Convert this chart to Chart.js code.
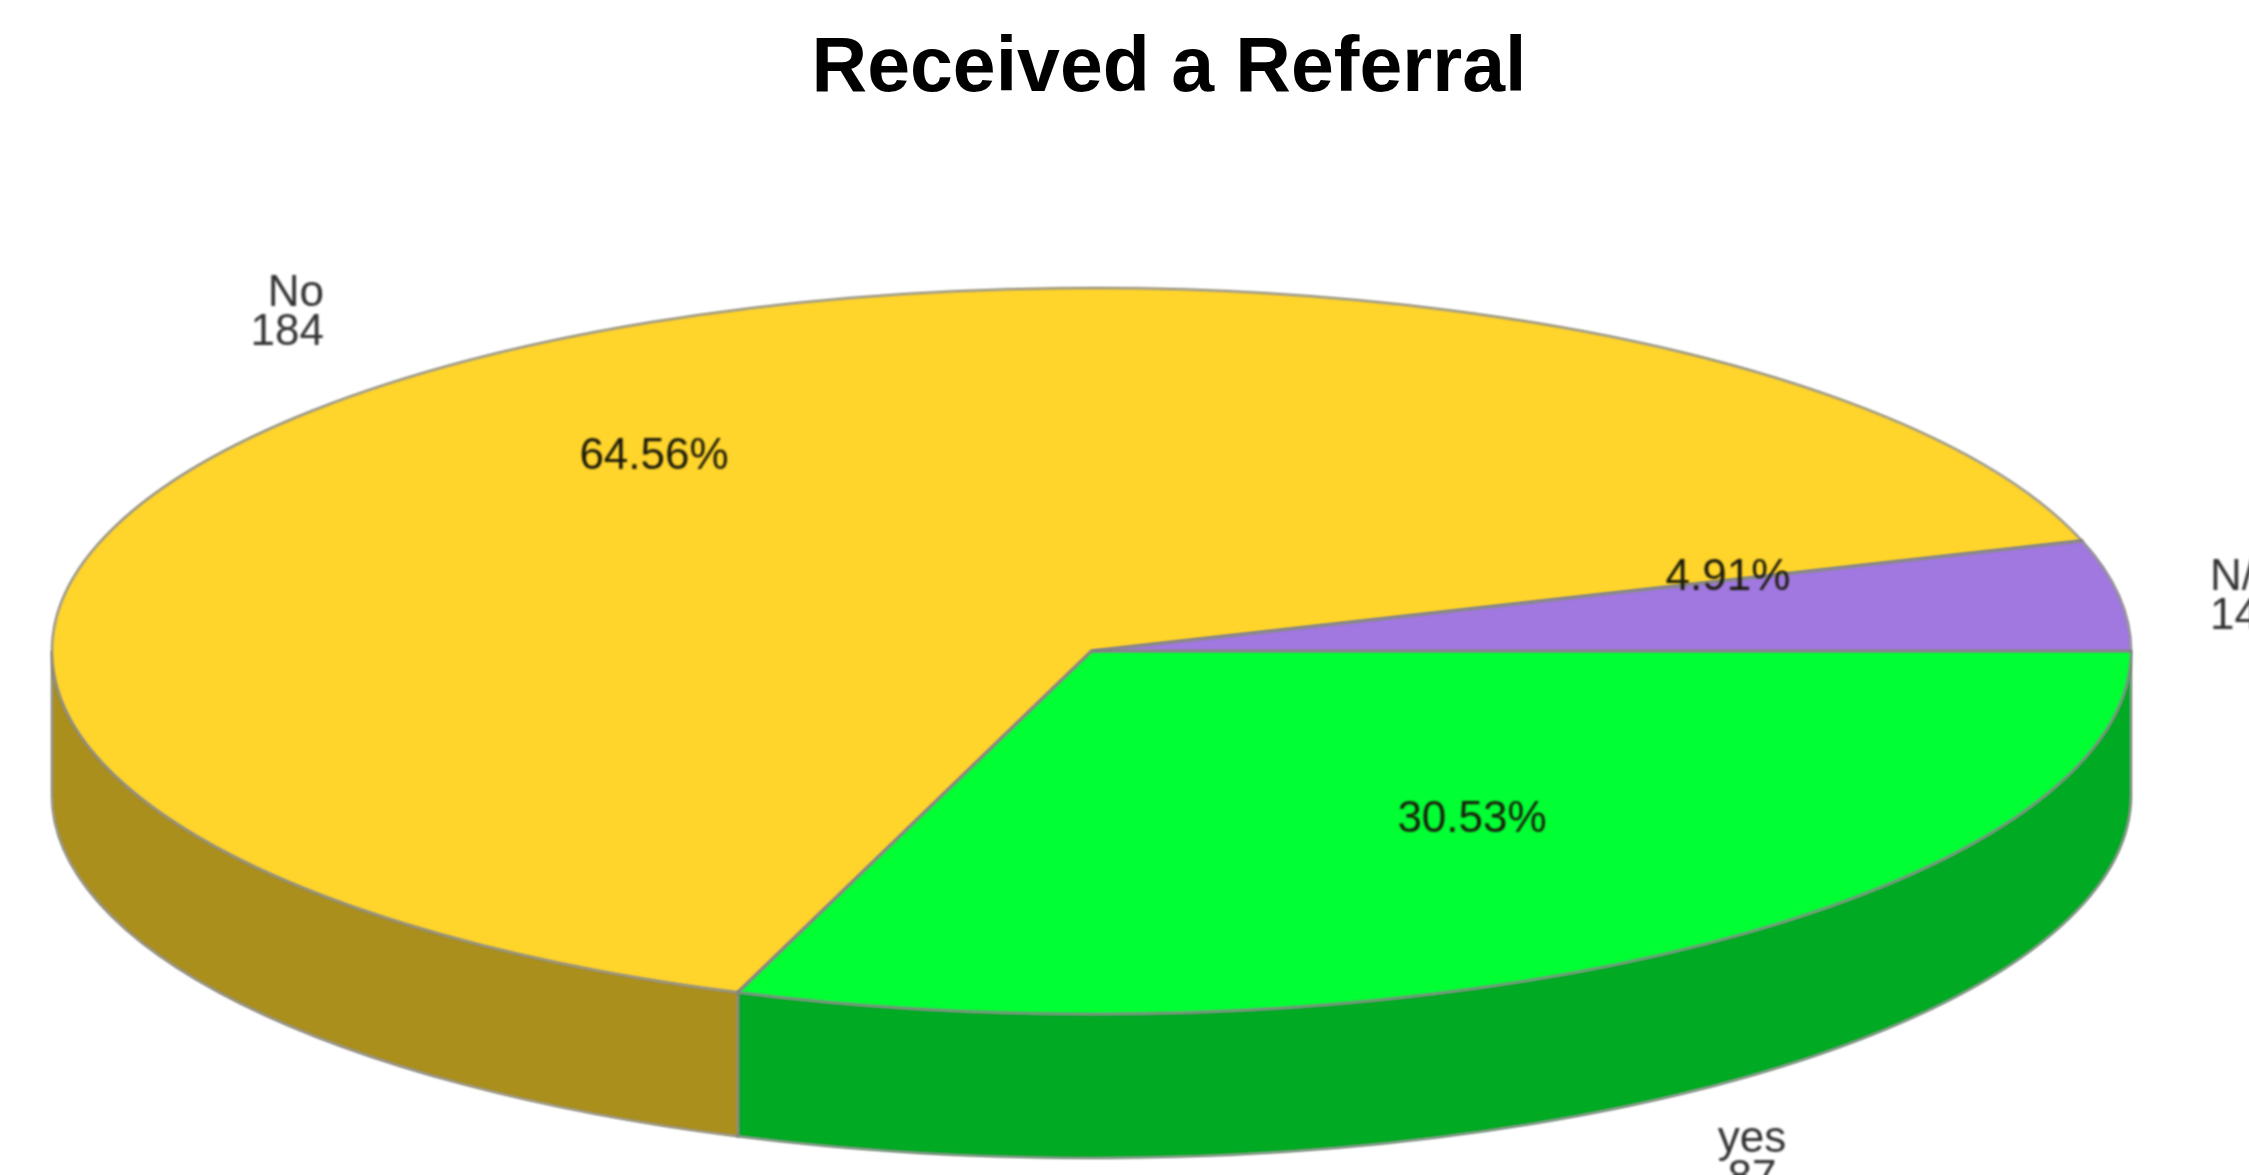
<!DOCTYPE html>
<html>
<head>
<meta charset="utf-8">
<title>Received a Referral</title>
<script src="https://cdn.jsdelivr.net/npm/chart.js@4"></script>
<style>
  html, body { margin: 0; padding: 0; background: #fff; overflow: hidden; }
  canvas { display: block; }
</style>
</head>
<body>
<canvas id="chart" width="2249" height="1175"></canvas>
<script>
const categories = ['yes', 'No', 'N/A'];
const counts = [87, 184, 14];
const topColors = ['#00ff33', '#ffd42b', '#a078e0'];
const wallColors = ['#00aa22', '#ab8f1d', '#6b5096'];

// Where the flattened pie sits on the page
const pie = { x: 1091.5, y: 651, rx: 1039.5, ry: 363, depth: 144 };
const edgeColor = '#808080';
const labelFont = '44px "Liberation Sans"';
const softEdge = 'blur(1px)';

// Label anchors, same order as categories
const nameAnchors = [
  { x: 1752, y: 1140, align: 'center' },
  { x: 324, y: 294, align: 'right' },
  { x: 2210, y: 578, align: 'left' }
];
const percentAnchors = [
  { x: 1472, y: 820 },
  { x: 654, y: 457 },
  { x: 1728, y: 578 }
];

function sectorPath(ctx, arc) {
  ctx.beginPath();
  ctx.moveTo(pie.x, pie.y);
  ctx.ellipse(pie.x, pie.y, pie.rx, pie.ry, 0, arc.startAngle, arc.endAngle);
  ctx.closePath();
}

const flatPie = {
  id: 'flatPie',
  beforeDatasetsDraw(chart) {
    const ctx = chart.ctx;
    const arcs = chart.getDatasetMeta(0).data;
    ctx.save();
    ctx.filter = softEdge;

    // Side wall, only the part of each slice that faces the viewer
    arcs.forEach((arc, i) => {
      const from = Math.max(arc.startAngle, 0);
      const to = Math.min(arc.endAngle, Math.PI);
      if (to <= from) { return; }
      ctx.beginPath();
      ctx.ellipse(pie.x, pie.y, pie.rx, pie.ry, 0, from, to);
      ctx.ellipse(pie.x, pie.y + pie.depth, pie.rx, pie.ry, 0, to, from, true);
      ctx.closePath();
      ctx.fillStyle = wallColors[i];
      ctx.fill();
      ctx.strokeStyle = edgeColor;
      ctx.lineWidth = 2;
      ctx.stroke();
    });

    // The library's own arcs get squashed into the ellipse
    const first = arcs[0];
    const r = first.outerRadius;
    ctx.translate(pie.x, pie.y);
    ctx.scale(pie.rx / r, pie.ry / r);
    ctx.translate(-first.x, -first.y);
  },
  afterDatasetsDraw(chart) {
    const ctx = chart.ctx;
    const arcs = chart.getDatasetMeta(0).data;
    ctx.restore();

    ctx.save();
    ctx.filter = softEdge;
    ctx.strokeStyle = edgeColor;
    ctx.lineWidth = 2;
    arcs.forEach((arc) => {
      sectorPath(ctx, arc);
      ctx.stroke();
    });

    const total = counts.reduce((a, b) => a + b, 0);
    ctx.font = labelFont;
    ctx.textBaseline = 'middle';
    categories.forEach((name, i) => {
      const a = nameAnchors[i];
      ctx.fillStyle = '#333333';
      ctx.textAlign = a.align;
      ctx.fillText(name, a.x, a.y);
      ctx.fillText(String(counts[i]), a.x, a.y + 39);

      const p = percentAnchors[i];
      ctx.fillStyle = '#1c1c0c';
      ctx.textAlign = 'center';
      ctx.fillText((counts[i] / total * 100).toFixed(2) + '%', p.x, p.y);
    });
    ctx.restore();
  }
};

new Chart(document.getElementById('chart'), {
  type: 'pie',
  data: {
    labels: categories,
    datasets: [{
      data: counts,
      backgroundColor: topColors,
      borderWidth: 0,
      clip: false
    }]
  },
  options: {
    responsive: false,
    animation: false,
    rotation: 90,
    // Title is centred a bit right of the page middle
    layout: { padding: { left: 89 } },
    plugins: {
      legend: { display: false },
      tooltip: { enabled: false },
      title: {
        display: true,
        text: 'Received a Referral',
        color: '#000',
        font: { family: '"Liberation Sans"', size: 77, weight: 'bold' },
        padding: { top: 24, bottom: 10 }
      }
    }
  },
  plugins: [flatPie]
});
</script>
</body>
</html>
